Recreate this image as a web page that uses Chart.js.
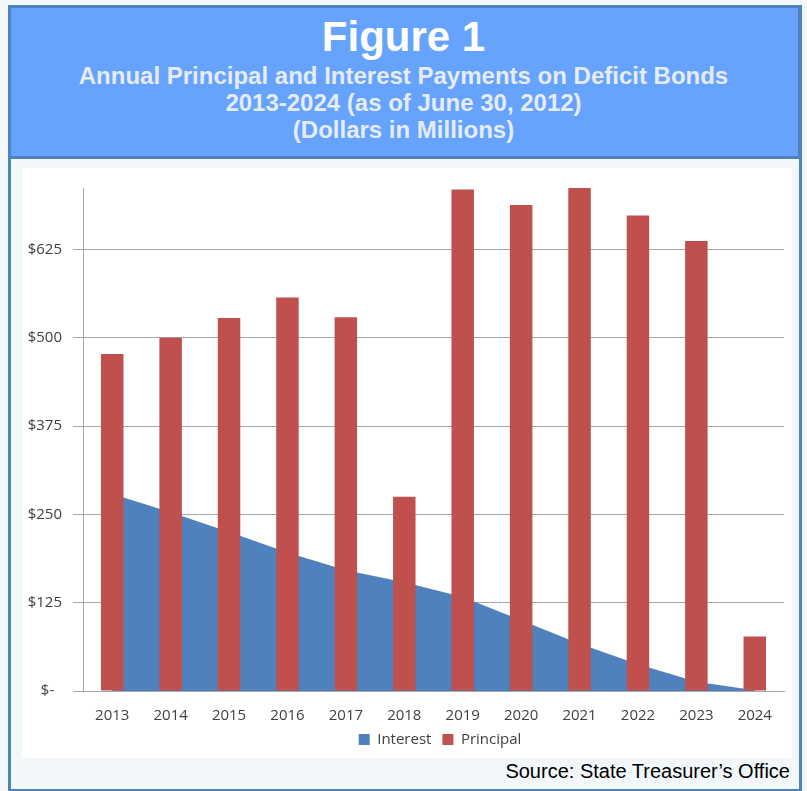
<!DOCTYPE html>
<html>
<head>
<meta charset="utf-8">
<script src="https://cdn.jsdelivr.net/npm/chart.js@4.4.1/dist/chart.umd.min.js"></script>
<style>
  html, body { margin: 0; padding: 0; }
  body { width: 807px; height: 791px; background: #f2f7fa; position: relative; overflow: hidden; font-family: "Liberation Sans", Arial, sans-serif; }
  #frame { position: absolute; left: 8px; top: 5px; width: 794px; height: 786px; box-sizing: border-box; border: 3px solid #4f81bd; border-bottom-width: 2px; }
  #header { position: absolute; left: 8px; top: 5px; width: 793px; height: 154px; box-sizing: border-box; background: #66a3fe; border: 3px solid #4f81bd; }
  .ttl { position: absolute; left: 0; width: 807px; text-align: center; font-weight: bold; white-space: nowrap; }
  #fig { top: 16px; font-size: 42px; line-height: 42px; color: #ffffff; }
  .sub { font-size: 24px; line-height: 27px; color: #e6ecf4; }
  #box { position: absolute; left: 22px; top: 168px; width: 770px; height: 590px; background: #ffffff; }
  #source { position: absolute; right: 17px; top: 761px; font-size: 20px; line-height: 20px; color: #000; white-space: nowrap; }
</style>
</head>
<body>
<div id="frame"></div>
<div id="header"></div>
<div class="ttl" id="fig">Figure 1</div>
<div class="ttl sub" style="top:62px">Annual Principal and Interest Payments on Deficit Bonds</div>
<div class="ttl sub" style="top:89px">2013-2024 (as of June 30, 2012)</div>
<div class="ttl sub" style="top:116px">(Dollars in Millions)</div>
<div id="box"><canvas id="chart"></canvas></div>
<div id="source">Source: State Treasurer’s Office</div>

<script>
var years = ['2013', '2014', '2015', '2016', '2017', '2018', '2019', '2020', '2021', '2022', '2023', '2024'];
var interest = [279, 253, 225, 196, 171, 154, 133, 100, 67, 38, 13, 1];
var principal = [477, 500, 528, 557, 529, 275, 710, 688, 712, 673, 637, 77];
var yTicks = [0, 125, 250, 375, 500, 625];
var yTickLabels = ['$-  ', '$125', '$250', '$375', '$500', '$625'];
var yMax = 712;

Chart.defaults.font.family = '"Open Sans", sans-serif';
Chart.defaults.font.size = 15;
Chart.defaults.color = '#404040';

// push the legend to the right, as in the original
var legendShift = {
	id: 'legendShift',
	afterLayout: function(chart) {
		chart.legend.left += 37;
		chart.legend.right += 37;
	}
};

var ctx = document.getElementById('chart').getContext('2d');
var chart = new Chart(ctx, {
	type: 'bar',
	data: {
		labels: years,
		datasets: [{
			type: 'line',
			label: 'Interest',
			data: interest,
			backgroundColor: '#4f81bd',
			borderColor: '#4f81bd',
			borderWidth: 0,
			pointRadius: 0,
			tension: 0,
			fill: 'origin',
			order: 1
		},
		{
			label: 'Principal',
			data: principal,
			backgroundColor: '#c0504d',
			categoryPercentage: 1,
			barPercentage: 0.385,
			order: 0
		}]
	},
	options: {
		responsive: true,
		maintainAspectRatio: false,
		animation: false,
		layout: { padding: { top: 17, right: 8, bottom: 1, left: 0 } },
		plugins: {
			tooltip: { enabled: false },
			legend: {
				position: 'bottom',
				labels: {
					boxWidth: 11,
					boxHeight: 11,
					padding: 11,
					sort: function(a, b) { return a.datasetIndex - b.datasetIndex; }
				}
			}
		},
		scales: {
			x: {
				grid: { display: false, drawTicks: false },
				border: { display: true, color: '#a6a6a6', width: 1 },
				ticks: { padding: 16, maxRotation: 0 },
				afterFit: function(scale) { scale.height = 30; }
			},
			y: {
				min: 0,
				max: yMax,
				grid: { color: '#a6a6a6', tickColor: '#a6a6a6', tickLength: 10, lineWidth: 1 },
				border: { display: true, color: '#a6a6a6', width: 1 },
				ticks: {
					padding: 11,
					callback: function(value) {
						var i = yTicks.indexOf(value);
						return i >= 0 ? yTickLabels[i] : '';
					}
				},
				afterBuildTicks: function(scale) {
					scale.ticks = yTicks.map(function(v) { return { value: v }; });
				},
				afterFit: function(scale) { scale.width = 61; }
			}
		}
	},
	plugins: [legendShift]
});
</script>
</body>
</html>
